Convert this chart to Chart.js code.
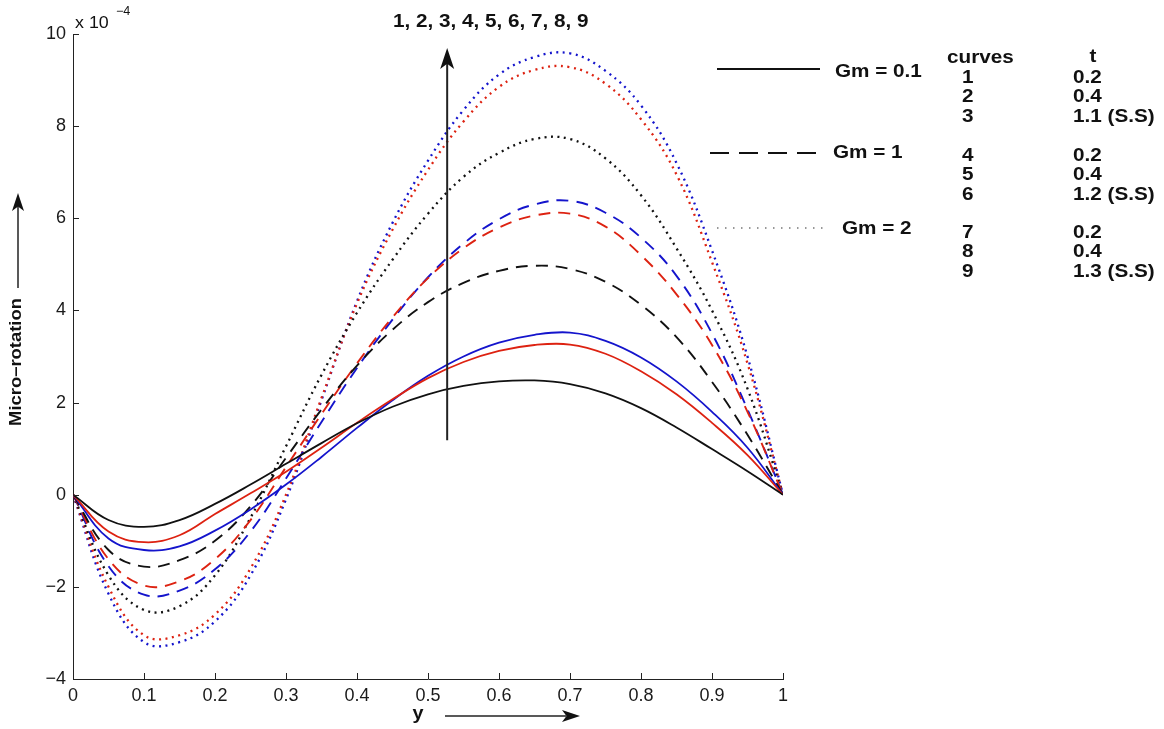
<!DOCTYPE html>
<html>
<head>
<meta charset="utf-8">
<script src="https://cdn.jsdelivr.net/npm/chart.js@4.4.1/dist/chart.umd.min.js"></script>
<style>
  body { margin: 0; background: #fff; }
  #wrap { width: 1164px; height: 729px; }
</style>
</head>
<body>
<div id="wrap"><canvas id="chart" width="1164" height="729"></canvas></div>
<script>
// y positions (abscissa of the plot)
const yPos = [0, 0.05, 0.1, 0.15, 0.2, 0.25, 0.3, 0.35, 0.4, 0.45, 0.5,
              0.55, 0.6, 0.65, 0.7, 0.75, 0.8, 0.85, 0.9, 0.95, 1];

// micro-rotation values (x 10^-4), curves 1..9
const curve1 = [0, -0.55, -0.7, -0.55, -0.2, 0.22, 0.67, 1.12, 1.55, 1.91, 2.18, 2.36, 2.46, 2.48, 2.4, 2.2, 1.88, 1.46, 0.99, 0.51, 0];
const curve2 = [0, -0.8, -1.03, -0.88, -0.42, 0.03, 0.5, 1.02, 1.56, 2.07, 2.53, 2.88, 3.12, 3.25, 3.26, 3.06, 2.68, 2.18, 1.56, 0.86, 0];
const curve3 = [0, -0.95, -1.2, -1.12, -0.78, -0.32, 0.22, 0.82, 1.45, 2.05, 2.58, 3.0, 3.3, 3.47, 3.52, 3.34, 2.98, 2.46, 1.8, 1.02, 0];
const curve4 = [0, -1.2, -1.56, -1.42, -1.0, -0.25, 0.8, 1.85, 2.8, 3.58, 4.18, 4.6, 4.86, 4.97, 4.9, 4.62, 4.12, 3.42, 2.45, 1.3, 0];
const curve5 = [0, -1.4, -1.97, -1.88, -1.4, -0.55, 0.6, 1.75, 2.85, 3.85, 4.7, 5.35, 5.8, 6.06, 6.1, 5.82, 5.2, 4.35, 3.25, 1.8, 0];
const curve6 = [0, -1.55, -2.17, -2.08, -1.62, -0.8, 0.35, 1.58, 2.75, 3.8, 4.72, 5.45, 5.98, 6.3, 6.38, 6.12, 5.58, 4.75, 3.5, 1.85, 0];
const curve7 = [0, -1.75, -2.5, -2.42, -1.75, -0.5, 1.05, 2.6, 3.95, 5.1, 6.1, 6.9, 7.42, 7.72, 7.72, 7.3, 6.5, 5.35, 4.0, 2.3, 0];
const curve8 = [0, -2.0, -3.05, -3.05, -2.6, -1.6, 0.0, 2.1, 4.15, 5.75, 7.05, 8.1, 8.85, 9.22, 9.28, 8.92, 8.15, 6.95, 5.05, 2.85, 0];
const curve9 = [0, -2.15, -3.2, -3.2, -2.75, -1.75, -0.1, 2.05, 4.2, 5.9, 7.25, 8.35, 9.12, 9.5, 9.58, 9.2, 8.45, 7.2, 5.3, 3.0, 0];

const xTicks = [0, 0.1, 0.2, 0.3, 0.4, 0.5, 0.6, 0.7, 0.8, 0.9, 1];
const yTicks = [-4, -2, 0, 2, 4, 6, 8, 10];

// legend table
const groupLabels = ["Gm = 0.1", "Gm = 1", "Gm = 2"];
const curveNums = ["1", "2", "3", "4", "5", "6", "7", "8", "9"];
const tValues = ["0.2", "0.4", "1.1 (S.S)", "0.2", "0.4", "1.2 (S.S)", "0.2", "0.4", "1.3 (S.S)"];

const BLACK = "#111111", RED = "#dd2211", BLUE = "#1414cc";
const SOLID = [], DASHED = [12, 8], DOTTED = [2, 4.5];

function mk(label, values, color, dash, width) {
  return {
    label: label,
    data: yPos.map((x, i) => ({ x: x, y: values[i] })),
    borderColor: color,
    borderDash: dash,
    borderWidth: width,
    pointRadius: 0,
    tension: 0.4,
    fill: false
  };
}

const datasets = [
  mk("1", curve1, BLACK, SOLID, 1.8),
  mk("2", curve2, RED, SOLID, 1.8),
  mk("3", curve3, BLUE, SOLID, 1.8),
  mk("4", curve4, BLACK, DASHED, 1.9),
  mk("5", curve5, RED, DASHED, 1.9),
  mk("6", curve6, BLUE, DASHED, 1.9),
  mk("7", curve7, BLACK, DOTTED, 2.3),
  mk("8", curve8, RED, DOTTED, 2.3),
  mk("9", curve9, BLUE, DOTTED, 2.3)
];

const FONT = '"Liberation Sans", Arial, Helvetica, sans-serif';

function stext(ctx, text, x, y, size, bold, align, sx) {
  ctx.save();
  ctx.translate(x, y);
  ctx.scale(sx || 1, 1);
  ctx.font = (bold ? "bold " : "") + size + "px " + FONT;
  ctx.textAlign = align || "left";
  ctx.textBaseline = "middle";
  ctx.fillStyle = "#111";
  ctx.fillText(text, 0, 0);
  ctx.restore();
}

function arrowHead(ctx, tipX, tipY, dir, len, half) {
  ctx.beginPath();
  if (dir === "up") {
    ctx.moveTo(tipX, tipY);
    ctx.lineTo(tipX - half, tipY + len);
    ctx.lineTo(tipX, tipY + len * 0.75);
    ctx.lineTo(tipX + half, tipY + len);
  } else {
    ctx.moveTo(tipX, tipY);
    ctx.lineTo(tipX - len, tipY - half);
    ctx.lineTo(tipX - len * 0.75, tipY);
    ctx.lineTo(tipX - len, tipY + half);
  }
  ctx.closePath();
  ctx.fill();
}

const decor = {
  id: "decor",
  afterDraw(chart) {
    const ctx = chart.ctx;
    const xs = chart.scales.x, ys = chart.scales.y;
    const area = chart.chartArea;
    ctx.save();
    ctx.strokeStyle = "#222";
    ctx.fillStyle = "#111";
    ctx.lineWidth = 1;

    // inward tick marks
    xTicks.forEach((v) => {
      const px = Math.round(xs.getPixelForValue(v)) + 0.5;
      ctx.beginPath();
      ctx.moveTo(px, area.bottom);
      ctx.lineTo(px, area.bottom - 6);
      ctx.stroke();
    });
    yTicks.forEach((v) => {
      const py = Math.round(ys.getPixelForValue(v)) + 0.5;
      ctx.beginPath();
      ctx.moveTo(area.left, py);
      ctx.lineTo(area.left + 6, py);
      ctx.stroke();
    });

    // exponent
    stext(ctx, "x 10", 75, 23, 17, false, "left", 1.05);
    stext(ctx, "\u22124", 116, 12, 12, false, "left", 1.05);

    // y-axis title with arrow
    ctx.save();
    ctx.translate(17, 362);
    ctx.rotate(-Math.PI / 2);
    stext(ctx, "Micro\u2013rotation", 0, 0, 16, true, "center", 1.15);
    ctx.restore();
    ctx.lineWidth = 1.5;
    ctx.beginPath();
    ctx.moveTo(18, 288);
    ctx.lineTo(18, 205);
    ctx.stroke();
    arrowHead(ctx, 18, 193, "up", 18, 6);

    // x-axis title with arrow
    stext(ctx, "y", 418, 714, 18, true, "center", 1.1);
    ctx.beginPath();
    ctx.moveTo(445, 716);
    ctx.lineTo(566, 716);
    ctx.stroke();
    arrowHead(ctx, 580, 716, "right", 18, 6);

    // increasing-curves arrow inside the plot
    const ax = xs.getPixelForValue(0.527);
    ctx.lineWidth = 2;
    ctx.beginPath();
    ctx.moveTo(ax, ys.getPixelForValue(1.18));
    ctx.lineTo(ax, 62);
    ctx.stroke();
    arrowHead(ctx, ax, 48, "up", 21, 7);
    stext(ctx, "1, 2, 3, 4, 5, 6, 7, 8, 9", 393, 22, 18, true, "left", 1.15);

    // legend samples
    ctx.lineWidth = 1.8;
    ctx.strokeStyle = "#111";
    ctx.setLineDash([]);
    ctx.beginPath(); ctx.moveTo(717, 69); ctx.lineTo(820, 69); ctx.stroke();
    ctx.setLineDash([19, 10]);
    ctx.beginPath(); ctx.moveTo(710, 153); ctx.lineTo(820, 153); ctx.stroke();
    ctx.setLineDash([1.5, 6.5]);
    ctx.lineWidth = 1.3;
    ctx.strokeStyle = "#777";
    ctx.beginPath(); ctx.moveTo(717, 228); ctx.lineTo(828, 228); ctx.stroke();
    ctx.setLineDash([]);

    stext(ctx, groupLabels[0], 835, 72, 18, true, "left", 1.15);
    stext(ctx, groupLabels[1], 833, 153, 18, true, "left", 1.15);
    stext(ctx, groupLabels[2], 842, 229, 18, true, "left", 1.15);

    stext(ctx, "curves", 947, 58, 18, true, "left", 1.15);
    stext(ctx, "t", 1093, 57, 18, true, "center", 1.15);
    const rowY = [78, 97, 117, 156, 175, 195, 233, 252, 272];
    curveNums.forEach((n, i) => {
      stext(ctx, n, 962, rowY[i], 18, true, "left", 1.15);
      stext(ctx, tValues[i], 1073, rowY[i], 18, true, "left", 1.15);
    });
    ctx.restore();
  }
};

new Chart(document.getElementById("chart"), {
  type: "line",
  data: { datasets: datasets },
  options: {
    responsive: false,
    animation: false,
    layout: { padding: { left: 0, right: 381, top: 34, bottom: 0 } },
    plugins: { legend: { display: false }, tooltip: { enabled: false } },
    scales: {
      x: {
        type: "linear",
        min: 0,
        max: 1,
        afterFit: (s) => { s.height = 50; },
        afterBuildTicks: (s) => { s.ticks = xTicks.map((v) => ({ value: v })); },
        border: { display: true, color: "#222", width: 1 },
        grid: { display: false, drawTicks: false },
        ticks: {
          autoSkip: false,
          maxRotation: 0,
          padding: 6,
          color: "#1a1a1a",
          font: { family: FONT, size: 18 },
          callback: (v) => String(Number(v.toFixed(1)))
        }
      },
      y: {
        type: "linear",
        min: -4,
        max: 10,
        afterFit: (s) => { s.width = 73; },
        afterBuildTicks: (s) => { s.ticks = yTicks.map((v) => ({ value: v })); },
        border: { display: true, color: "#222", width: 1 },
        grid: { display: false, drawTicks: false },
        ticks: {
          autoSkip: false,
          padding: 7,
          color: "#1a1a1a",
          font: { family: FONT, size: 18 },
          callback: (v) => (v < 0 ? "\u2212" + Math.abs(v) : String(v))
        }
      }
    }
  },
  plugins: [decor]
});
</script>
</body>
</html>
